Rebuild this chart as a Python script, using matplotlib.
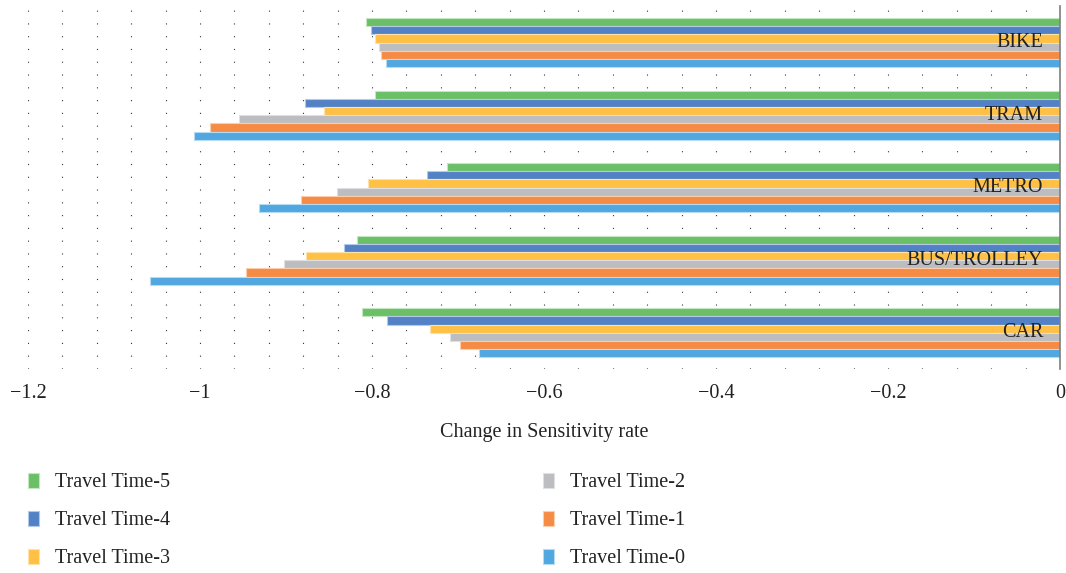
import matplotlib.pyplot as plt
import numpy as np

# modes, bottom to top
modes = ["CAR", "BUS/TROLLEY", "METRO", "TRAM", "BIKE"]
series = ["Travel Time-5", "Travel Time-4", "Travel Time-3",
          "Travel Time-2", "Travel Time-1", "Travel Time-0"]

tt5 = [-0.812, -0.817, -0.713, -0.796, -0.807]
tt4 = [-0.783, -0.833, -0.736, -0.878, -0.801]
tt3 = [-0.732, -0.877, -0.805, -0.856, -0.796]
tt2 = [-0.709, -0.902, -0.841, -0.955, -0.792]
tt1 = [-0.698, -0.947, -0.883, -0.988, -0.789]
tt0 = [-0.675, -1.058, -0.931, -1.007, -0.784]

colors = ["#6bbf67", "#5282c5", "#ffc145", "#bcbdc0", "#f58b45", "#51a7df"]
edges = ["#c4e6c0", "#b4c8e8", "#ffe2a8", "#e0e0e2", "#fbcfae", "#b6dcf3"]

plt.rcParams["font.family"] = ["Liberation Serif", "DejaVu Serif"]
fs = 14.5

fig = plt.figure(figsize=(10.66, 5.73), dpi=100)
ax = fig.add_axes([0.0263, 0.356, 0.968, 0.633])

values = [tt5, tt4, tt3, tt2, tt1, tt0]
y = np.arange(len(modes))
h = 0.113
handles = []
for i, (name, vals) in enumerate(zip(series, values)):
    offset = (2.5 - i) * h
    b = ax.barh(y + offset, vals, height=h, color=colors[i],
                edgecolor=edges[i], linewidth=0.8, label=name, zorder=2)
    handles.append(b)

ax.set_xlim(-1.2, 0)
ax.set_ylim(-0.5, len(modes) - 0.5)
ax.set_xticks(np.arange(-1.2, 0.01, 0.2))
ax.set_xticklabels(["\u22121.2", "\u22121", "\u22120.8", "\u22120.6",
                    "\u22120.4", "\u22120.2", "0"])
ax.set_xticks(np.arange(-1.2, 0.001, 0.04), minor=True)
ax.tick_params(axis="x", which="both", length=0, labelsize=fs, pad=11,
               colors="#222222")
ax.set_yticks([])
ax.grid(axis="x", which="both", color="#333333", linewidth=0.8,
        linestyle=(0, (1, 10.5)), zorder=0)
ax.set_axisbelow(True)

for s in ["top", "left", "bottom"]:
    ax.spines[s].set_visible(False)
ax.spines["right"].set_color("#7f7f7f")
ax.spines["right"].set_linewidth(1.2)

for yi, m in zip(y, modes):
    ax.annotate(m, xy=(0, yi), xytext=(-12, 0), textcoords="offset points",
                ha="right", va="center", fontsize=fs, color="#222222", zorder=3)

ax.set_xlabel("Change in Sensitivity rate", fontsize=fs, labelpad=14,
              color="#222222")

fig.legend(handles=handles, loc="upper left", bbox_to_anchor=(0.009, 0.206),
           ncol=2, frameon=False, fontsize=fs, handlelength=0.55,
           handleheight=0.75, handletextpad=0.8, columnspacing=18.5,
           labelspacing=0.92, labelcolor="#222222")

fig.savefig("out.png", dpi=100)
